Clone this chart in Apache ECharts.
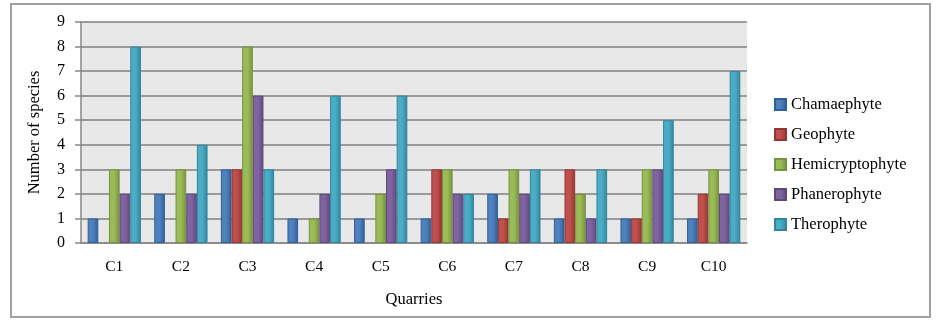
<!DOCTYPE html>
<html>
<head>
<meta charset="utf-8">
<script src="https://cdn.jsdelivr.net/npm/echarts@6/dist/echarts.min.js"></script>
<style>
  html, body { margin: 0; padding: 0; background: #fff; }
  #frame { position: absolute; left: 10px; top: 3px; width: 921px; height: 315px; border: 2px solid #a0a0a0; box-sizing: border-box; }
  #main { position: absolute; left: 0; top: 0; width: 937px; height: 323px; }
</style>
</head>
<body>
<div id="frame"></div>
<div id="main"></div>
<script>
var quarries = ['C1', 'C2', 'C3', 'C4', 'C5', 'C6', 'C7', 'C8', 'C9', 'C10'];
var chamaephyte = [1, 2, 3, 1, 1, 1, 2, 1, 1, 1];
var geophyte = [0, 0, 3, 0, 0, 3, 1, 3, 1, 2];
var hemicryptophyte = [3, 3, 8, 1, 2, 3, 3, 2, 3, 3];
var phanerophyte = [2, 2, 6, 2, 3, 2, 2, 1, 3, 2];
var therophyte = [8, 4, 3, 6, 6, 2, 3, 3, 5, 7];

var font = 'Liberation Serif';
var chart = echarts.init(document.getElementById('main'));

function bar(name, data, color, edge) {
  return {
    name: name,
    type: 'bar',
    // zero counts are simply not drawn in the original
    data: data.map(function (v) { return v === 0 ? null : v; }),
    barGap: '0%',
    barCategoryGap: '20%',
    itemStyle: {
      color: new echarts.graphic.LinearGradient(0, 0, 1, 0, [
        { offset: 0, color: color },
        { offset: 0.5, color: color },
        { offset: 1, color: edge }
      ]),
      borderColor: edge,
      borderWidth: 1
    }
  };
}

var option = {
  animation: false,
  textStyle: { fontFamily: font },
  legend: {
    orient: 'vertical',
    left: 769,
    top: 91,
    itemWidth: 11,
    itemHeight: 11,
    itemGap: 13,
    icon: 'rect',
    textStyle: { fontFamily: font, fontSize: 16.5, lineHeight: 17, color: '#000' },
    data: ['Chamaephyte', 'Geophyte', 'Hemicryptophyte', 'Phanerophyte', 'Therophyte']
  },
  grid: {
    left: 81,
    top: 22,
    width: 666,
    height: 221,
    show: true,
    backgroundColor: '#e8e8e8',
    borderWidth: 0
  },
  xAxis: {
    type: 'category',
    data: quarries,
    name: 'Quarries',
    nameLocation: 'middle',
    nameGap: 48,
    nameTextStyle: { fontFamily: font, fontSize: 16.5, color: '#000' },
    axisLine: { lineStyle: { color: '#888', width: 1.5 } },
    axisTick: { show: false },
    axisLabel: { fontFamily: font, fontSize: 15.5, color: '#000', margin: 16 }
  },
  yAxis: {
    type: 'value',
    min: 0,
    max: 9,
    interval: 1,
    name: 'Number of species',
    nameLocation: 'middle',
    nameGap: 38,
    nameTextStyle: { fontFamily: font, fontSize: 16.5, color: '#000' },
    axisLine: { show: true, lineStyle: { color: '#888', width: 1.5 } },
    axisTick: { show: true, length: 6, lineStyle: { color: '#888', width: 1.5 } },
    axisLabel: { fontFamily: font, fontSize: 16, color: '#000', margin: 16 },
    splitLine: { lineStyle: { color: '#808080', width: 1.5 } }
  },
  series: [
    bar('Chamaephyte', chamaephyte, '#4f81bd', '#2f5f98'),
    bar('Geophyte', geophyte, '#c0504d', '#943634'),
    bar('Hemicryptophyte', hemicryptophyte, '#9bbb59', '#76923c'),
    bar('Phanerophyte', phanerophyte, '#8064a2', '#5f497a'),
    bar('Therophyte', therophyte, '#4bacc6', '#31859c')
  ]
};

chart.setOption(option);
</script>
</body>
</html>
